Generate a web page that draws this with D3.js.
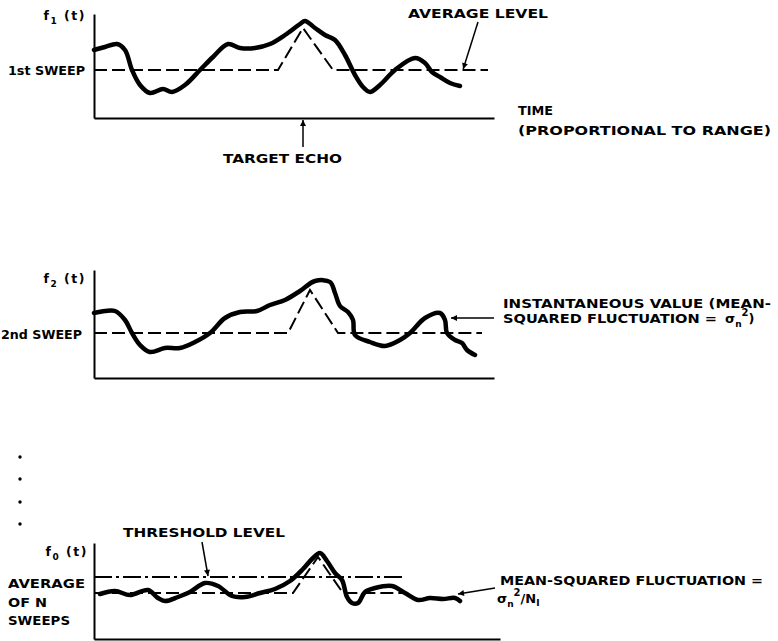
<!DOCTYPE html>
<html>
<head>
<meta charset="utf-8">
<script src="https://cdn.jsdelivr.net/npm/d3@7/dist/d3.min.js"></script>
<style>
  html, body { margin: 0; padding: 0; background: #fff; }
  svg { display: block; }
  .lbl { font-family: "DejaVu Sans", "Liberation Sans", sans-serif; font-weight: bold; font-size: 13px; fill: #000; }
</style>
</head>
<body>
<svg id="chart" width="778" height="641"></svg>
<script>
// ---- Data: time (0-100, proportional to range) and amplitude per sweep ----
// 1st sweep
const sweep1Time = [0, 2.75, 5.75, 7.75, 9.5, 11.5, 14, 17.25, 19.5, 22.75, 26.5, 29.75, 33.5, 36.5, 40.25, 44, 47.75, 51.5, 52.75, 55.25, 57.75, 60.25, 62.75, 65.25, 67.25, 69, 71.5, 75.25, 80.25, 82.75, 84.5, 86.5, 89, 91.5];
const sweep1Value = [68, 71, 74, 68, 48, 33, 25, 29, 26, 33, 48, 61, 74, 70, 70, 74, 83, 94, 97, 90, 83, 78, 63, 43, 31, 26, 33, 48, 60, 55, 46, 41, 35, 32];
const echo1Time = [0, 46, 52.25, 59.75, 98.5];
const echo1Value = [48, 48, 90, 48, 48];

// 2nd sweep
const sweep2Time = [0, 2.75, 5.25, 7.75, 9.5, 11.5, 14, 17.75, 21.5, 25.25, 29, 32.75, 36.5, 40.75, 44, 47.75, 51.5, 55.25, 59, 60.25, 61.5, 63.5, 64.75, 65.25, 69, 72.75, 76.5, 79, 82.75, 86.5, 87.75, 88.25, 90.25, 92, 93.25, 95.25];
const sweep2Value = [65, 67, 67, 58, 45, 33, 26, 30, 30, 36, 45, 60, 66, 67, 73, 78, 87, 97, 96, 85, 72, 66, 58, 43, 36, 32, 38, 45, 60, 65, 58, 45, 38, 35, 28, 23];
const echo2Time = [0, 48.5, 54, 61, 97];
const echo2Value = [45, 45, 88, 45, 45];

// Average of N sweeps
const avgTime = [1.5, 5.25, 9, 13.5, 16, 17.75, 21, 24, 27.75, 31, 34.5, 37.75, 41.5, 45.25, 49, 52.25, 54.5, 56.5, 58.25, 60.25, 62, 63.25, 64.5, 66, 67.75, 70.25, 74.5, 77.75, 81, 84, 87.25, 90.25, 91.5];
const avgValue = [45, 48, 44, 49, 41, 38, 42, 47, 56, 53, 43, 42, 46, 50, 58, 70, 80, 86, 78, 66, 59, 42, 36, 36, 47, 51, 53, 46, 39, 41, 40, 41, 38];
const echoAvgTime = [0, 49.75, 56, 62.25, 77];
const echoAvgValue = [46, 46, 82, 46, 46];
const thresholdTime = [0, 77.75];
const thresholdValue = [62, 62];

// ---- Layout ----
const svg = d3.select("#chart");
const x = d3.scaleLinear().domain([0, 100]).range([94, 494]);

const panels = [
  { bottom: 118, height: 104 },
  { bottom: 378, height: 108 },
  { bottom: 639, height: 96 }
];
const yScales = panels.map(p => d3.scaleLinear().domain([0, p.height]).range([p.bottom, p.bottom - p.height]));

function pts(ts, vs) { return ts.map((t, i) => [t, vs[i]]); }

function drawAxes(y, xEnd) {
  const g = svg.append("g");
  const xa = d3.scaleLinear().domain([0, xEnd]).range([x(0), x(xEnd)]);
  g.append("g").attr("transform", `translate(0,${y.range()[0]})`)
    .call(d3.axisBottom(xa).tickValues([]).tickSizeOuter(0));
  g.append("g").attr("transform", `translate(${x(0)},0)`)
    .call(d3.axisLeft(y).tickValues([]).tickSizeOuter(0));
  g.selectAll(".domain").attr("stroke", "#000").attr("stroke-width", 2);
}

function drawCurve(y, ts, vs) {
  const line = d3.line().x(d => x(d[0])).y(d => y(d[1])).curve(d3.curveCatmullRom.alpha(0.5));
  svg.append("path").datum(pts(ts, vs)).attr("d", line)
    .attr("fill", "none").attr("stroke", "#000").attr("stroke-width", 4.5)
    .attr("stroke-linejoin", "round").attr("stroke-linecap", "round");
}

function drawDashed(y, ts, vs, dash) {
  const line = d3.line().x(d => x(d[0])).y(d => y(d[1]));
  svg.append("path").datum(pts(ts, vs)).attr("d", line)
    .attr("fill", "none").attr("stroke", "#000").attr("stroke-width", 2)
    .attr("stroke-dasharray", dash);
}

// Arrowhead marker
svg.append("defs").append("marker")
  .attr("id", "arrow").attr("viewBox", "0 0 10 10").attr("refX", 10).attr("refY", 5)
  .attr("markerWidth", 9).attr("markerHeight", 6).attr("markerUnits", "userSpaceOnUse")
  .attr("orient", "auto")
  .append("path").attr("d", "M0,0 L10,5 L0,10 Z").attr("fill", "#000");

function arrow(x1, y1, x2, y2) {
  svg.append("line").attr("x1", x1).attr("y1", y1).attr("x2", x2).attr("y2", y2)
    .attr("stroke", "#000").attr("stroke-width", 1.5).attr("marker-end", "url(#arrow)");
}

// Text label; optional width stretches the lettering to the given span
function label(px, py, txt, width, anchor) {
  const t = svg.append("text").attr("class", "lbl").attr("x", px).attr("y", py)
    .attr("text-anchor", anchor || "start").text(txt);
  if (width) t.attr("textLength", width).attr("lengthAdjust", "spacingAndGlyphs");
  return t;
}

function fLabel(px, py, sub) {
  const t = svg.append("text").attr("class", "lbl").attr("x", px).attr("y", py)
    .attr("text-anchor", "end").style("font-size", "12.5px").style("letter-spacing", "1.5px");
  t.append("tspan").text("f");
  t.append("tspan").attr("dy", 4).style("font-size", "9px").text(sub);
  t.append("tspan").attr("dy", -4).text(" (t)");
}

function sigmaN(px, py) {
  const t = svg.append("text").attr("class", "lbl").attr("x", px).attr("y", py);
  t.append("tspan").text("σ");
  t.append("tspan").attr("dy", 4).style("font-size", "9px").text("n");
  t.append("tspan").attr("dy", -11).style("font-size", "10px").text("2");
  return t;
}

// ---- Panel 1: 1st sweep ----
const y1 = yScales[0];
drawAxes(y1, 100);
drawDashed(y1, echo1Time, echo1Value, "13,5");
drawCurve(y1, sweep1Time, sweep1Value);
fLabel(86, 20, "1");
label(8, 75, "1st SWEEP", 77);
label(408, 18, "AVERAGE LEVEL", 140);
arrow(478, 22, x(92.3), y1(echo1Value[4]) - 1);
label(518, 115, "TIME", 35);
label(518, 135, "(PROPORTIONAL TO RANGE)", 253);
arrow(x(52.25), 147, x(52.25), y1.range()[0] + 2);
label(223, 163, "TARGET ECHO", 119);

// ---- Panel 2: 2nd sweep ----
const y2 = yScales[1];
drawAxes(y2, 100);
drawDashed(y2, echo2Time, echo2Value, "13,5");
drawCurve(y2, sweep2Time, sweep2Value);
fLabel(86, 283, "2");
label(1, 339, "2nd SWEEP", 81);
label(503, 308, "INSTANTANEOUS VALUE (MEAN-", 268);
label(503, 323, "SQUARED FLUCTUATION =", 214);
sigmaN(725, 323).append("tspan").attr("dy", 7).text(")");
arrow(494, 318, 451, 318);

// ---- Continuation dots ----
svg.selectAll(".dot").data([457, 479, 502, 524]).enter().append("circle")
  .attr("cx", 20).attr("cy", d => d).attr("r", 1.7).attr("fill", "#000");

// ---- Panel 3: average of N sweeps ----
const y3 = yScales[2];
drawAxes(y3, 101.5);
drawDashed(y3, thresholdTime, thresholdValue, "18,4,3,4");
drawDashed(y3, echoAvgTime, echoAvgValue, "13,5");
drawCurve(y3, avgTime, avgValue);
fLabel(88, 556, "0");
label(8, 588, "AVERAGE", 77);
label(8, 607, "OF N", 39);
label(8, 625, "SWEEPS", 62);
label(123, 537, "THRESHOLD LEVEL", 162);
arrow(202, 542, 208, y3(thresholdValue[0]) - 1);
label(500, 585, "MEAN-SQUARED FLUCTUATION =", 263);
{
  const t = sigmaN(497, 603);
  t.append("tspan").attr("dy", 7).text("/N");
  t.append("tspan").attr("dy", 3).style("font-size", "9px").text("I");
}
arrow(495, 588, 458, 594);
</script>
</body>
</html>
